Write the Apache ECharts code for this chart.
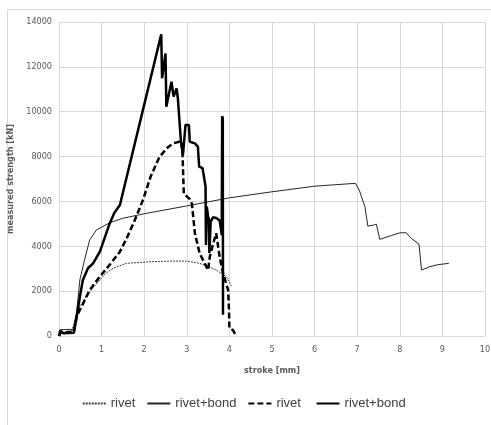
<!DOCTYPE html>
<html>
<head>
<meta charset="utf-8">
<script src="https://cdn.jsdelivr.net/npm/echarts@6/dist/echarts.min.js"></script>
<style>
  html, body { margin: 0; padding: 0; background: #fff; }
  #chart { width: 491px; height: 425px; }
</style>
</head>
<body>
<div id="chart"></div>
<script>
// stroke [mm] / strength [kN]
var rivetX = [0, 0.05, 0.3, 0.37, 0.45, 0.55, 0.64, 0.8, 0.96, 1.1, 1.27, 1.58, 2.13, 2.6, 2.99, 3.3, 3.5, 3.69, 3.93, 4.05];
var rivetY = [0, 150, 200, 700, 1150, 1500, 1750, 2150, 2500, 2800, 3020, 3240, 3310, 3340, 3340, 3240, 3100, 2940, 2640, 2230];

var bondX = [0, 0.03, 0.35, 0.42, 0.49, 0.6, 0.72, 0.88, 1.0, 1.19, 1.5, 2, 3, 4, 5, 6, 6.9, 6.96, 7.05, 7.1, 7.18, 7.25, 7.4, 7.45, 7.53, 7.8, 8.0, 8.15, 8.22, 8.27, 8.45, 8.51, 8.7, 8.9, 9.15];
var bondY = [0, 280, 300, 1200, 2500, 3400, 4280, 4730, 4850, 5050, 5250, 5450, 5800, 6160, 6430, 6680, 6800, 6800, 6500, 6210, 5770, 4900, 4950, 4990, 4310, 4480, 4600, 4605, 4450, 4356, 4100, 2940, 3090, 3180, 3240];

var rivet2X = [0, 0.03, 0.35, 0.41, 0.57, 0.72, 0.96, 1.2, 1.43, 1.6, 1.78, 1.97, 2.15, 2.36, 2.55, 2.68, 2.8, 2.87, 2.9, 2.92, 2.93, 3.07, 3.12, 3.19, 3.3, 3.42, 3.5, 3.54, 3.62, 3.69, 3.77, 3.85, 3.97, 3.99, 4.0, 4.08, 4.15];
var rivet2Y = [0, 150, 200, 860, 1460, 2050, 2650, 3200, 3760, 4400, 5170, 6060, 7100, 7990, 8400, 8590, 8650, 8700, 8100, 8050, 6350, 6100, 5900, 4580, 3700, 3240, 2940, 3540, 4130, 4580, 3540, 2800, 2050, 1160, 340, 270, 40];

var bond2X = [0, 0.03, 0.1, 0.35, 0.42, 0.49, 0.56, 0.68, 0.8, 0.96, 1.19, 1.3, 1.43, 2.4, 2.42, 2.5, 2.52, 2.64, 2.69, 2.76, 2.79, 2.83, 2.86, 2.91, 2.97, 3.05, 3.07, 3.19, 3.26, 3.29, 3.37, 3.38, 3.44, 3.45, 3.47, 3.5, 3.52, 3.53, 3.56, 3.62, 3.7, 3.77, 3.8, 3.82, 3.83, 3.845, 3.85];
var bond2Y = [0, 250, 120, 150, 900, 1750, 2500, 3020, 3240, 3760, 5020, 5500, 5840, 13450, 11490, 12600, 10220, 11340, 10670, 11040, 10600, 10670, 8740, 8070, 9410, 9410, 8660, 8590, 8440, 7550, 7480, 7400, 6660, 4060, 5770, 5320, 5200, 3700, 5100, 5300, 5250, 5150, 4800, 4500, 9800, 9700, 950];

var seriesNames = ['rivet', 'rivet+bond', 'rivet ', 'rivet+bond '];
var xTicks = { min: 0, max: 10, step: 1 };
var yTicks = { min: 0, max: 14000, step: 2000 };

function pairs(xs, ys) {
  return xs.map(function (x, i) { return [x, ys[i]]; });
}

var labelFont = "'Liberation Sans Narrow', 'DejaVu Sans Condensed', 'Liberation Sans', sans-serif";
var legendFont = "'Liberation Sans', Arial, sans-serif";

var chart = echarts.init(document.getElementById('chart'));
var option = {
  animation: false,
  backgroundColor: '#fff',
  graphic: [{
    type: 'rect',
    shape: { x: 7.5, y: 9.5, width: 490, height: 430 },
    style: { fill: 'none', stroke: '#d9d9d9', lineWidth: 1 },
    silent: true
  }],
  grid: { left: 59, right: 6, top: 22, bottom: 89, outerBoundsMode: 'none' },
  xAxis: {
    type: 'value',
    min: xTicks.min, max: xTicks.max, interval: xTicks.step,
    name: 'stroke [mm]',
    nameLocation: 'middle',
    nameGap: 30,
    nameTextStyle: { color: '#595959', fontSize: 9, fontWeight: 'bold', fontFamily: labelFont },
    axisLine: { show: true, lineStyle: { color: '#d9d9d9' } },
    axisTick: { show: false },
    axisLabel: { color: '#595959', fontSize: 9, margin: 9, fontFamily: labelFont },
    splitLine: { show: true, lineStyle: { color: '#d9d9d9' } }
  },
  yAxis: {
    type: 'value',
    min: yTicks.min, max: yTicks.max, interval: yTicks.step,
    name: 'measured strength [kN]',
    nameLocation: 'middle',
    nameGap: 37,
    nameTextStyle: { color: '#595959', fontSize: 9, fontWeight: 'bold', fontFamily: labelFont },
    axisLine: { show: false },
    axisTick: { show: false },
    axisLabel: {
      color: '#595959', fontSize: 9, margin: 7, fontFamily: labelFont,
      formatter: function (v) { return String(v); }
    },
    splitLine: { show: true, lineStyle: { color: '#d9d9d9' } }
  },
  legend: {
    bottom: 10,
    left: 'center',
    itemWidth: 23,
    itemHeight: 12,
    itemGap: 11,
    itemStyle: { opacity: 0 },
    textStyle: { color: '#404040', fontSize: 13, fontFamily: legendFont },
    data: seriesNames
  },
  series: [
    {
      name: seriesNames[0], type: 'line', symbol: 'none',
      data: pairs(rivetX, rivetY),
      lineStyle: { color: '#404040', width: 1, type: [2, 1] },
      itemStyle: { color: '#404040' }
    },
    {
      name: seriesNames[1], type: 'line', symbol: 'none',
      data: pairs(bondX, bondY),
      lineStyle: { color: '#262626', width: 1 },
      itemStyle: { color: '#262626' }
    },
    {
      name: seriesNames[2], type: 'line', symbol: 'none',
      data: pairs(rivet2X, rivet2Y),
      lineStyle: { color: '#000', width: 2.5, type: [6, 3] },
      itemStyle: { color: '#000' }
    },
    {
      name: seriesNames[3], type: 'line', symbol: 'none',
      data: pairs(bond2X, bond2Y),
      lineStyle: { color: '#000', width: 2.5 },
      itemStyle: { color: '#000' }
    }
  ]
};
chart.setOption(option);
</script>
</body>
</html>
